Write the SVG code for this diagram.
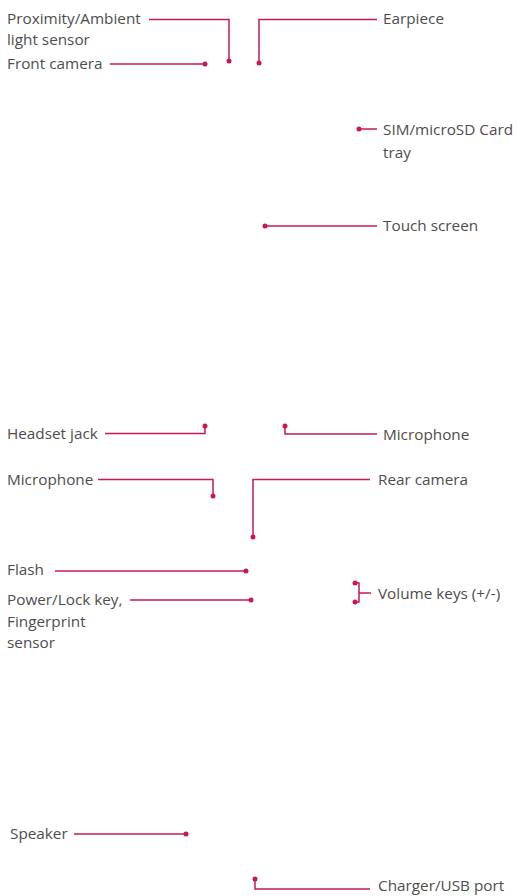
<svg xmlns="http://www.w3.org/2000/svg" width="517" height="896" viewBox="0 0 517 896">
<style>
text{font-family:"Open Sans","Noto Sans",sans-serif;font-size:15.3px;fill:#4d4d4d}
.c{fill:none;stroke:#c8184f;stroke-width:1.5}
.d{fill:#c8184f}
</style>
<rect width="517" height="896" fill="#fff"/>
<g id="connectors">
<polyline class="c" points="149,19.5 229,19.5 229,61"/>
<polyline class="c" points="110,64 205,64"/>
<polyline class="c" points="259,63 259,19.5 377,19.5"/>
<polyline class="c" points="359,129 377,129"/>
<polyline class="c" points="265,226 377,226"/>
<polyline class="c" points="105,433.5 205,433.5 205,426"/>
<polyline class="c" points="285,426 285,434 377,434"/>
<polyline class="c" points="98,479.5 213,479.5 213,496"/>
<polyline class="c" points="253,537 253,479.5 370,479.5"/>
<polyline class="c" points="55,571 246,571"/>
<polyline class="c" points="130,600 251,600"/>
<polyline class="c" points="355,583 359,583 359,602 355,602"/>
<polyline class="c" points="359,593 371,593"/>
<polyline class="c" points="74,834 186,834"/>
<polyline class="c" points="255,879 255,889 370,889"/>
<circle class="d" cx="229" cy="61" r="2.5"/>
<circle class="d" cx="205" cy="64" r="2.5"/>
<circle class="d" cx="259" cy="63" r="2.5"/>
<circle class="d" cx="359" cy="129" r="2.5"/>
<circle class="d" cx="265" cy="226" r="2.5"/>
<circle class="d" cx="205" cy="426" r="2.5"/>
<circle class="d" cx="285" cy="426" r="2.5"/>
<circle class="d" cx="213" cy="496" r="2.5"/>
<circle class="d" cx="253" cy="537" r="2.5"/>
<circle class="d" cx="246" cy="571" r="2.5"/>
<circle class="d" cx="251" cy="600" r="2.5"/>
<circle class="d" cx="355" cy="583" r="2.5"/>
<circle class="d" cx="355" cy="602" r="2.5"/>
<circle class="d" cx="186" cy="834" r="2.5"/>
<circle class="d" cx="255" cy="879" r="2.5"/>
</g>
<g id="proximity"><text x="7" y="24">Proximity/Ambient</text><text x="7" y="45">light sensor</text></g>
<g id="front-camera"><text x="7" y="69">Front camera</text></g>
<g id="earpiece"><text x="383" y="24">Earpiece</text></g>
<g id="sim"><text x="383" y="135">SIM/microSD Card</text><text x="383" y="158">tray</text></g>
<g id="touch"><text x="383" y="231">Touch screen</text></g>
<g id="headset"><text x="7" y="439">Headset jack</text></g>
<g id="mic-right"><text x="383" y="440">Microphone</text></g>
<g id="mic-left"><text x="7" y="485">Microphone</text></g>
<g id="rear-camera"><text x="378" y="485">Rear camera</text></g>
<g id="flash"><text x="7" y="575">Flash</text></g>
<g id="power"><text x="7" y="605">Power/Lock key,</text><text x="7" y="627">Fingerprint</text><text x="7" y="648">sensor</text></g>
<g id="volume"><text x="378" y="599">Volume keys (+/-)</text></g>
<g id="speaker"><text x="10" y="839">Speaker</text></g>
<g id="charger"><text x="378" y="891">Charger/USB port</text></g>
</svg>
